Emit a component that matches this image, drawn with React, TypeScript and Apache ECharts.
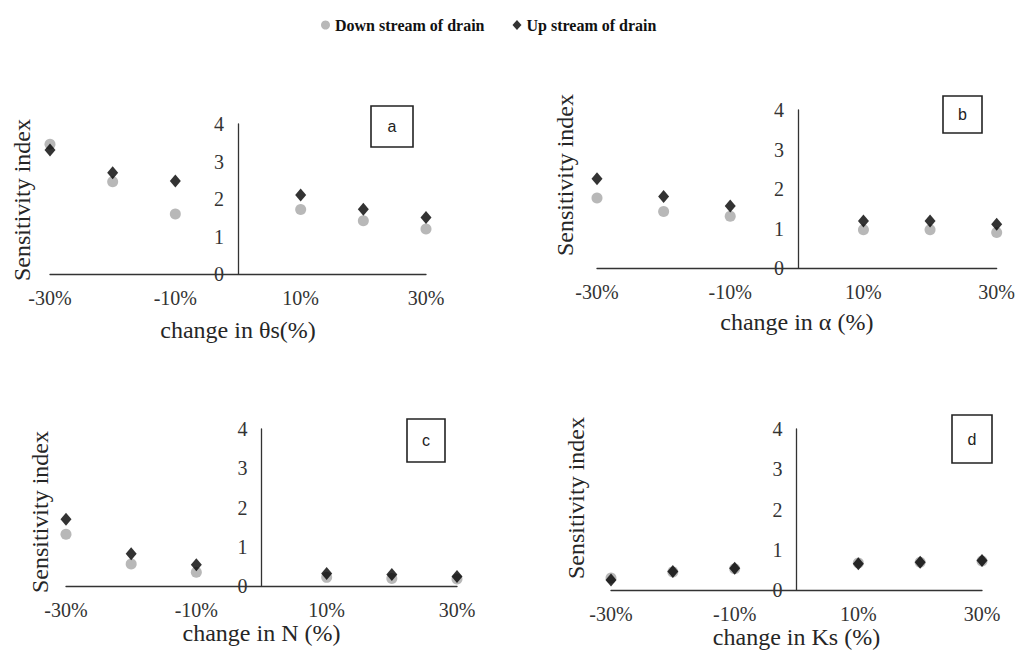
import React, { useEffect, useRef } from "react";
import * as echarts from "echarts";

const xValues = [-30, -20, -10, 10, 20, 30];
const xTickLabels = ["-30%", "-10%", "10%", "30%"];
const xTickValues = [-30, -10, 10, 30];
const seriesNames = ["Down stream of drain", "Up stream of drain"];
const panelLetters = ["a", "b", "c", "d"];
const xTitles = ["change in θs(%)", "change in α (%)", "change in N (%)", "change in Ks (%)"];
const yTitle = "Sensitivity index";

const downA = [3.46, 2.46, 1.6, 1.72, 1.42, 1.2];
const upA = [3.31, 2.7, 2.48, 2.11, 1.73, 1.51];
const downB = [1.77, 1.43, 1.31, 0.97, 0.97, 0.9];
const upB = [2.26, 1.81, 1.57, 1.19, 1.19, 1.11];
const downC = [1.32, 0.56, 0.35, 0.22, 0.19, 0.18];
const upC = [1.7, 0.82, 0.54, 0.32, 0.29, 0.24];
const downD = [0.3, 0.45, 0.53, 0.67, 0.69, 0.72];
const upD = [0.25, 0.46, 0.54, 0.65, 0.69, 0.73];

const downAll = [downA, downB, downC, downD];
const upAll = [upA, upB, upC, upD];

const FONT = "'Liberation Serif', 'Times New Roman', serif";
const TXT = "#262626";

const grids = [
  { left: 50, top: 124, width: 376, height: 150 },
  { left: 597, top: 110, width: 402, height: 158 },
  { left: 66, top: 429, width: 391, height: 157 },
  { left: 611, top: 429, width: 371, height: 161 },
];
const xNameGaps = [44, 42, 33, 28];
const yTitlePos = [
  [22, 200],
  [565, 175],
  [40, 512],
  [576, 498],
];
const boxes = [
  { x: 371, y: 106, w: 42, h: 41 },
  { x: 943, y: 96, w: 39, h: 37 },
  { x: 407, y: 419, w: 38, h: 43 },
  { x: 952, y: 415, w: 40, h: 48 },
];

export default function App() {
  const ref = useRef<HTMLDivElement>(null);
  useEffect(() => {
    if (!ref.current) return;
    const chart = echarts.init(ref.current, null, { renderer: "svg" });
    const xAxis = grids.map((_, i) => ({
      type: "value",
      gridIndex: i,
      min: -30,
      max: 30,
      interval: 10,
      name: xTitles[i],
      nameLocation: "middle",
      nameGap: xNameGaps[i],
      nameTextStyle: { fontFamily: FONT, fontSize: 24, color: TXT },
      axisLine: { show: true, onZero: false, lineStyle: { color: "#333", width: 1.3 } },
      axisTick: { show: false },
      splitLine: { show: false },
      axisLabel: {
        margin: 14,
        fontFamily: FONT,
        fontSize: 20,
        color: "#333",
        showMinLabel: true,
        showMaxLabel: true,
        formatter: (v: number) => {
          const k = xTickValues.indexOf(Math.round(v));
          return k >= 0 ? xTickLabels[k] : "";
        },
      },
    }));
    const yAxis = grids.map((g, i) => ({
      type: "value",
      gridIndex: i,
      min: 0,
      max: 4,
      interval: 1,
      position: "left",
      offset: -(g.width / 2),
      axisLine: { show: true, onZero: false, lineStyle: { color: "#333", width: 1.3 } },
      axisTick: { show: false },
      splitLine: { show: false },
      axisLabel: { margin: 14, fontFamily: FONT, fontSize: 20, color: "#333" },
    }));
    const series: any[] = [];
    grids.forEach((_, i) => {
      series.push({
        name: seriesNames[0],
        type: "scatter",
        xAxisIndex: i,
        yAxisIndex: i,
        symbol: "circle",
        symbolSize: 11,
        itemStyle: { color: "#a6a6a6" },
        data: xValues.map((x, j) => [x, downAll[i][j]]),
        z: 2,
      });
      series.push({
        name: seriesNames[1],
        type: "scatter",
        xAxisIndex: i,
        yAxisIndex: i,
        symbol: "diamond",
        symbolSize: [11, 13],
        itemStyle: { color: "#000" },
        data: xValues.map((x, j) => [x, upAll[i][j]]),
        z: 3,
      });
    });
    const graphic: any[] = [];
    yTitlePos.forEach((p) => {
      graphic.push({
        type: "text",
        x: p[0],
        y: p[1],
        rotation: Math.PI / 2,
        style: {
          text: yTitle,
          fontFamily: FONT,
          fontSize: 24,
          fill: TXT,
          textAlign: "center",
          textVerticalAlign: "middle",
        },
      });
    });
    boxes.forEach((b, i) => {
      graphic.push({
        type: "rect",
        shape: { x: b.x, y: b.y, width: b.w, height: b.h },
        style: { fill: "#fff", stroke: "#222", lineWidth: 1.6 },
      });
      graphic.push({
        type: "text",
        x: b.x + b.w / 2,
        y: b.y + b.h / 2,
        style: {
          text: panelLetters[i],
          fontFamily: "'Liberation Sans', Arial, sans-serif",
          fontSize: 16,
          fill: "#222",
          textAlign: "center",
          textVerticalAlign: "middle",
        },
      });
    });
    chart.setOption({
      animation: false,
      backgroundColor: "#fff",
      legend: {
        data: [
          { name: seriesNames[0], icon: "circle" },
          { name: seriesNames[1], icon: "diamond" },
        ],
        left: 316,
        top: 12,
        itemWidth: 9,
        itemHeight: 10,
        itemGap: 28,
        textStyle: { fontFamily: FONT, fontSize: 16, fontWeight: "bold", color: "#111" },
      },
      grid: grids.map((g) => ({ ...g, containLabel: false })),
      xAxis,
      yAxis,
      series,
      graphic,
    });
    return () => chart.dispose();
  }, []);
  return (
    <div
      ref={ref}
      style={{ position: "fixed", left: 0, top: 0, width: 1018, height: 660, background: "#fff" }}
    />
  );
}
